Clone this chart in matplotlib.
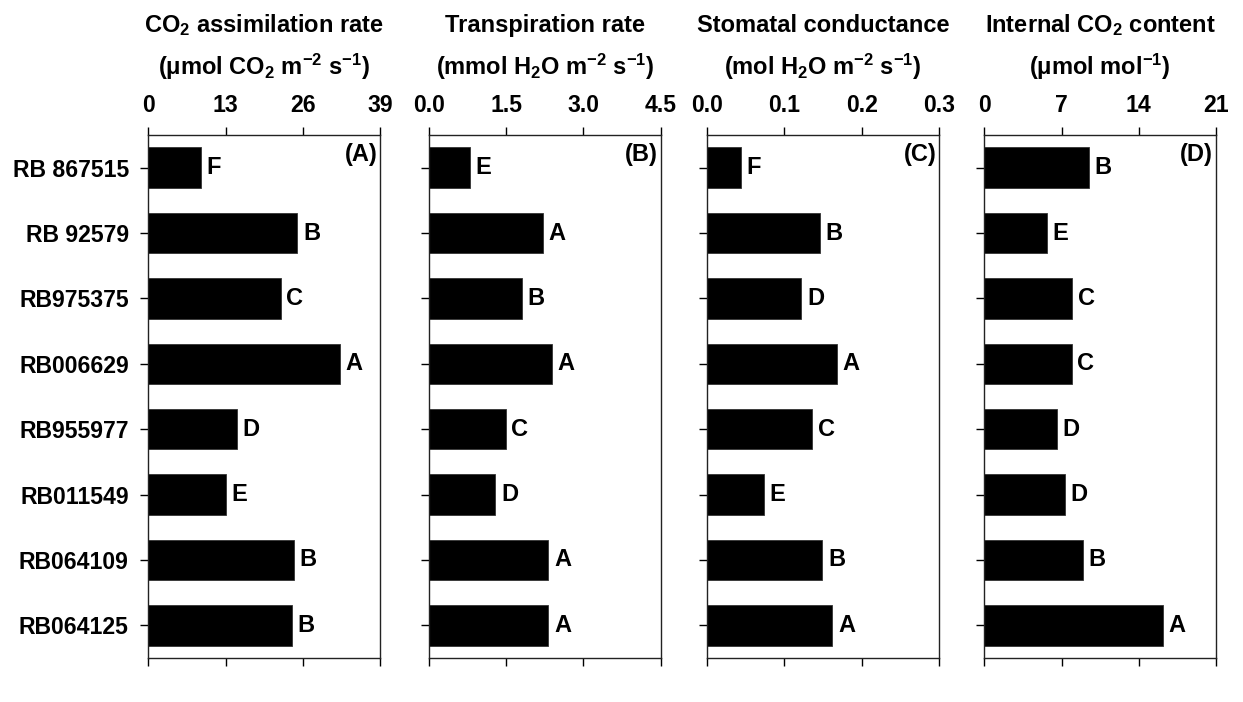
import matplotlib
matplotlib.use("Agg")
import matplotlib.pyplot as plt

plt.rcParams.update({
    "font.family": ["Liberation Sans", "DejaVu Sans"],
    "font.weight": "bold",
    "font.size": 16.6,
    "mathtext.default": "regular",
    "axes.linewidth": 1.0,
    "axes.edgecolor": "#222222",
})

cultivars = ["RB 867515", "RB 92579", "RB975375", "RB006629",
             "RB955977", "RB011549", "RB064109", "RB064125"]

co2_assim = [8.9, 25.1, 22.3, 32.3, 14.9, 13.1, 24.5, 24.2]
co2_letters = ["F", "B", "C", "A", "D", "E", "B", "B"]

transp = [0.79, 2.22, 1.81, 2.38, 1.49, 1.29, 2.32, 2.32]
transp_letters = ["E", "A", "B", "A", "C", "D", "A", "A"]

stom_cond = [0.044, 0.146, 0.122, 0.168, 0.136, 0.073, 0.149, 0.162]
stom_letters = ["F", "B", "D", "A", "C", "E", "B", "A"]

internal_co2 = [9.47, 5.66, 7.95, 7.92, 6.59, 7.29, 8.92, 16.17]
internal_letters = ["B", "E", "C", "C", "D", "D", "B", "A"]

panels = [
    (co2_assim, co2_letters, "(A)", "CO$_2$ assimilation rate",
     "(μmol CO$_2$ m$^{-2}$ s$^{-1}$)", [0, 13, 26, 39], "{:.0f}"),
    (transp, transp_letters, "(B)", "Transpiration rate",
     "(mmol H$_2$O m$^{-2}$ s$^{-1}$)", [0.0, 1.5, 3.0, 4.5], "{:.1f}"),
    (stom_cond, stom_letters, "(C)", "Stomatal conductance",
     "(mol H$_2$O m$^{-2}$ s$^{-1}$)", [0.0, 0.1, 0.2, 0.3], "{:.1f}"),
    (internal_co2, internal_letters, "(D)", "Internal CO$_2$ content",
     "(μmol mol$^{-1}$)", [0, 7, 14, 21], "{:.0f}"),
]

fig = plt.figure(figsize=(12.43, 7.02), dpi=100)

lefts = [0.1193, 0.3451, 0.5690, 0.7919]
width = 0.1864
bottom, height = 0.0627, 0.745

for i, (vals, letters, tag, title1, title2, ticks, fmt) in enumerate(panels):
    ax = fig.add_axes([lefts[i], bottom, width, height])
    y = range(len(cultivars))
    ax.barh(y, vals, height=0.62, color="black", edgecolor="#333333", linewidth=0.6)
    for yi, v, lab in zip(y, vals, letters):
        ax.annotate(lab, (v, yi), xytext=(4, 0), textcoords="offset points",
                    ha="left", va="center", fontsize=17)
    ax.set_xlim(ticks[0], ticks[-1])
    ax.set_ylim(len(cultivars) - 0.5, -0.5)
    ax.set_xticks(ticks)
    ax.set_xticklabels([fmt.format(t) for t in ticks])
    ax.xaxis.set_ticks_position("both")
    ax.tick_params(axis="x", direction="out", length=6, width=1.0,
                   labeltop=True, labelbottom=False, pad=7)
    ax.set_yticks(list(y))
    if i == 0:
        ax.set_yticklabels(cultivars)
        ax.tick_params(axis="y", direction="out", length=6, width=1.0, pad=8)
    else:
        ax.set_yticklabels([])
        ax.tick_params(axis="y", direction="out", length=6, width=1.0)
    ax.annotate(tag, (1, 1), xycoords="axes fraction", xytext=(-2, -6),
                textcoords="offset points", ha="right", va="top", fontsize=17)
    cx = lefts[i] + width / 2
    fig.text(cx, 0.9544, title1, ha="center", va="baseline", fontsize=17)
    fig.text(cx, 0.8932, title2, ha="center", va="baseline", fontsize=17)

fig.savefig("out.png", dpi=100)
